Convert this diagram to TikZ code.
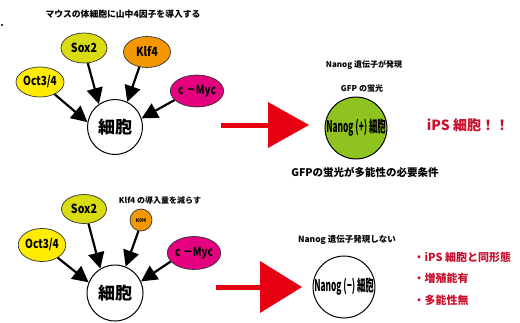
\documentclass[tikz,border=0pt]{standalone}
\usepackage{fontspec}
\setmainfont{Noto Sans CJK JP}
\usetikzlibrary{shapes.geometric,arrows.meta}
\definecolor{cOct}{HTML}{FFEC00}
\definecolor{cSox}{HTML}{D8DC10}
\definecolor{cKlf}{HTML}{F39800}
\definecolor{cMyc}{HTML}{E4007F}
\definecolor{cGreen}{HTML}{8FC31F}
\definecolor{cRed}{HTML}{E60012}
\definecolor{cText}{HTML}{C8102E}
\begin{document}
\begin{tikzpicture}[x=1pt,y=-1pt,
  factor/.style={ellipse,draw=black!80,line width=0.7pt,inner sep=0pt,font=\bfseries\fontsize{12.5}{12.5}\selectfont},
  cell/.style={circle,draw=black,line width=1pt,fill=white,inner sep=0pt,font=\bfseries\fontsize{17}{17}\selectfont},
  nanog/.style={circle,draw=black,line width=1pt,inner sep=0pt,minimum size=61pt,font=\bfseries\fontsize{16}{16}\selectfont},
  blackarrow/.style={line width=2.2pt,-{Triangle[length=16pt,width=16pt]}},
  redarrow/.style={cRed,line width=5pt},
  note/.style={font=\bfseries\fontsize{8}{8}\selectfont},
  redtext/.style={cText,font=\bfseries\fontsize{11}{11}\selectfont,anchor=west}
]
\useasboundingbox (0,0) rectangle (520,322);
\fill (2,25) circle (1.1pt);

% ---- top row ----
\node[note,font=\bfseries\fontsize{8.8}{9}\selectfont] (title) at (123,14) {マウスの体細胞に山中4因子を導入する};
\node[factor,fill=cOct,minimum width=48pt,minimum height=30pt] (oct1) at (40,82) {\scalebox{0.8}[1]{Oct3/4}};
\node[factor,fill=cSox,minimum width=46pt,minimum height=30pt] (sox1) at (84,48) {\scalebox{0.85}[1]{Sox2}};
\node[factor,fill=cKlf,minimum width=47pt,minimum height=31pt] (klf1) at (147,52) {\scalebox{0.85}[1]{Klf4}};
\node[factor,fill=cMyc,minimum width=48pt,minimum height=32pt] (myc1) at (197,91) {\scalebox{0.8}[1]{c －Myc}};
\node[cell,minimum size=55pt] (cell1) at (115,127) {細胞};

\draw[blackarrow] (oct1.-40) -- (cell1.170);
\draw[blackarrow] (sox1.-76) -- (cell1.125);
\draw[blackarrow] (klf1.-117) -- (cell1.64);
\draw[blackarrow] (myc1.202) -- (cell1.18);

\coordinate (r1s) at (221,125);
\coordinate (r1b) at (268,125);
\coordinate (r1e) at (309,125);
\draw[redarrow] (r1s) -- (r1b);
\fill[cRed] (268,102) -- (r1e) -- (268,148) -- cycle;

\node[note] (nanogexp) at (364,65) {Nanog 遺伝子が発現};
\node[note] (gfp) at (362,88) {GFP の蛍光};
\node[nanog,fill=cGreen] (nanogp) at (356,128) {\scalebox{0.52}[1]{Nanog (+) 細胞}};
\node[cText,font=\bfseries\fontsize{14}{14}\selectfont] (ips) at (468,125) {iPS 細胞！！};
\node[font=\bfseries\fontsize{10.5}{11}\selectfont] (cond) at (365,172) {GFPの蛍光が多能性の必要条件};

% ---- bottom row ----
\node[note] (klfnote) at (160,200) {Klf4 の導入量を減らす};
\node[factor,fill=cOct,minimum width=46pt,minimum height=33pt] (oct2) at (42,245) {\scalebox{0.8}[1]{Oct3/4}};
\node[factor,fill=cSox,minimum width=45pt,minimum height=29pt] (sox2) at (84,209) {\scalebox{0.85}[1]{Sox2}};
\node[circle,draw=black!80,line width=0.7pt,fill=cKlf,inner sep=0pt,minimum size=22pt,font=\bfseries\fontsize{5}{5}\selectfont] (klf2) at (141,220) {Klf4};
\node[factor,fill=cMyc,minimum width=45pt,minimum height=33pt] (myc2) at (194,253) {\scalebox{0.8}[1]{c －Myc}};
\node[cell,minimum size=56pt] (cell2) at (115,293) {細胞};

\draw[blackarrow] (oct2.-39) -- (cell2.158);
\draw[blackarrow] (sox2.-73) -- (cell2.121);
\draw[blackarrow] (klf2.-103) -- (cell2.68);
\draw[blackarrow] (myc2.200) -- (cell2.24);

\coordinate (r2s) at (216,287);
\coordinate (r2b) at (260,287);
\coordinate (r2e) at (302,287);
\draw[redarrow] (r2s) -- (r2b);
\fill[cRed] (260,261) -- (r2e) -- (260,313) -- cycle;

\node[note,font=\bfseries\fontsize{8.5}{9}\selectfont] (nanognot) at (347,240) {Nanog 遺伝子発現しない};
\node[nanog,fill=white] (nanogm) at (344,287) {\scalebox{0.52}[1]{Nanog (−) 細胞}};

\node[redtext] (b1) at (410,257) {・iPS 細胞と同形態};
\node[redtext] (b2) at (410,278) {・増殖能有};
\node[redtext] (b3) at (410,300) {・多能性無};
\end{tikzpicture}
\end{document}
